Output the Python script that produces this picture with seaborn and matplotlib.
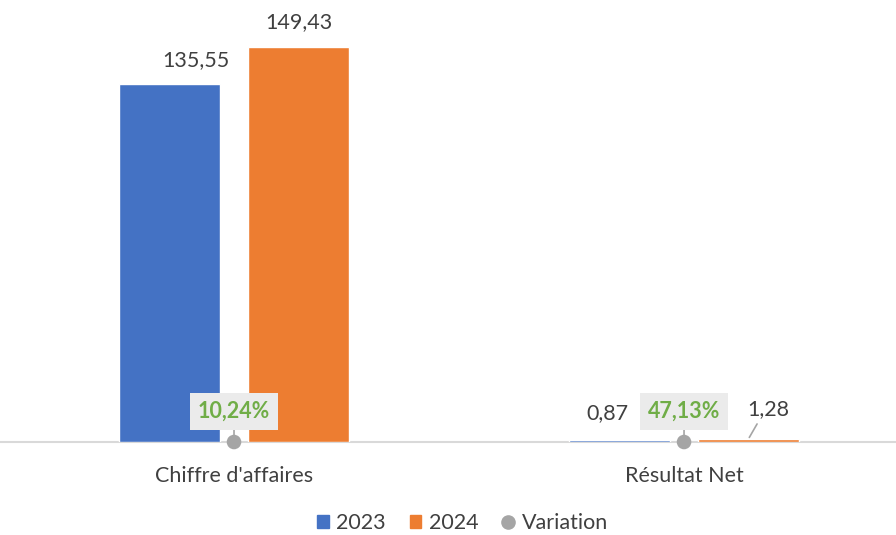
import seaborn as sns
import matplotlib.pyplot as plt
import pandas as pd
from matplotlib.patches import Patch
from matplotlib.lines import Line2D

sns.set_style("white")
plt.rcParams['font.family'] = ['Lato', 'DejaVu Sans']

# Data
categories = ["Chiffre d'affaires", "Résultat Net"]
years = ["2023", "2024"]
values_2023 = [135.55, 0.87]
values_2024 = [149.43, 1.28]
variation = ["10,24%", "47,13%"]

blue, orange, grey = "#4472C4", "#ED7D31", "#A5A5A5"
green = "#70AD47"
txt = "#404040"

df = pd.DataFrame({
    "categorie": categories * 2,
    "annee": [years[0]] * 2 + [years[1]] * 2,
    "valeur": values_2023 + values_2024,
})

fig = plt.figure(figsize=(8.96, 5.35), dpi=100)
ax = fig.add_axes([0, 0.1738, 1, 0.8075])

sns.barplot(data=df, x="categorie", y="valeur", hue="annee",
            palette=[blue, orange], width=0.573, gap=0.22,
            saturation=1, legend=False, ax=ax, zorder=3)

# variation markers on the baseline
sns.scatterplot(x=[0, 1], y=[0, 0], color=grey, s=110, edgecolor="none",
                zorder=5, clip_on=False, ax=ax)

ax.set_xlim(-0.52, 1.471)
ax.set_ylim(0, 163.6)
sns.despine(ax=ax, left=True, top=True, right=True)
ax.spines["bottom"].set_color("#D9D9D9")
ax.spines["bottom"].set_linewidth(1.5)
ax.spines["bottom"].set_zorder(0.5)
ax.set_yticks([])
ax.set_xlabel("")
ax.set_ylabel("")
ax.tick_params(axis="x", length=0, pad=17, labelsize=15.5, labelcolor=txt)

fs = 15.5
off = 0.1435
# value labels (offsets in points)
ax.annotate("135,55", (-off, values_2023[0]), xytext=(19, 17), textcoords="offset points",
            ha="center", va="center", fontsize=fs, color=txt)
ax.annotate("149,43", (off, values_2024[0]), xytext=(0, 18), textcoords="offset points",
            ha="center", va="center", fontsize=fs, color=txt)
ax.annotate("0,87", (1 - off, values_2023[1]), xytext=(-9, 19.5), textcoords="offset points",
            ha="center", va="center", fontsize=fs, color=txt)
ax.annotate("1,28", (1 + off, values_2024[1]), xytext=(14, 21), textcoords="offset points",
            ha="center", va="center", fontsize=fs, color=txt,
            arrowprops=dict(arrowstyle="-", color=grey, lw=1.2, shrinkA=1, shrinkB=1,
                            relpos=(0.3, 0)))

# variation labels in grey boxes
for i, lab in enumerate(variation):
    ax.annotate(lab, (i, 0), xytext=(0, 22), textcoords="offset points",
                ha="center", va="center", fontsize=fs, fontweight="bold", color=green,
                bbox=dict(boxstyle="square,pad=0.38", fc="#EBEBEB", ec="none"),
                arrowprops=dict(arrowstyle="-", color=grey, lw=1.2, shrinkA=0, shrinkB=4),
                zorder=6)

handles = [Patch(color=blue, label="2023"), Patch(color=orange, label="2024"),
           Line2D([], [], marker="o", ls="", color=grey, markersize=9.5, label="Variation")]
fig.legend(handles=handles, loc="center", bbox_to_anchor=(0.516, 0.022), ncol=3,
           frameon=False, fontsize=15.5, handlelength=0.55, handleheight=0.55,
           handletextpad=0.35, columnspacing=1.1, labelcolor=txt,
           borderpad=0.2)

fig.savefig("out.png", dpi=100, facecolor="white")
plt.close()
